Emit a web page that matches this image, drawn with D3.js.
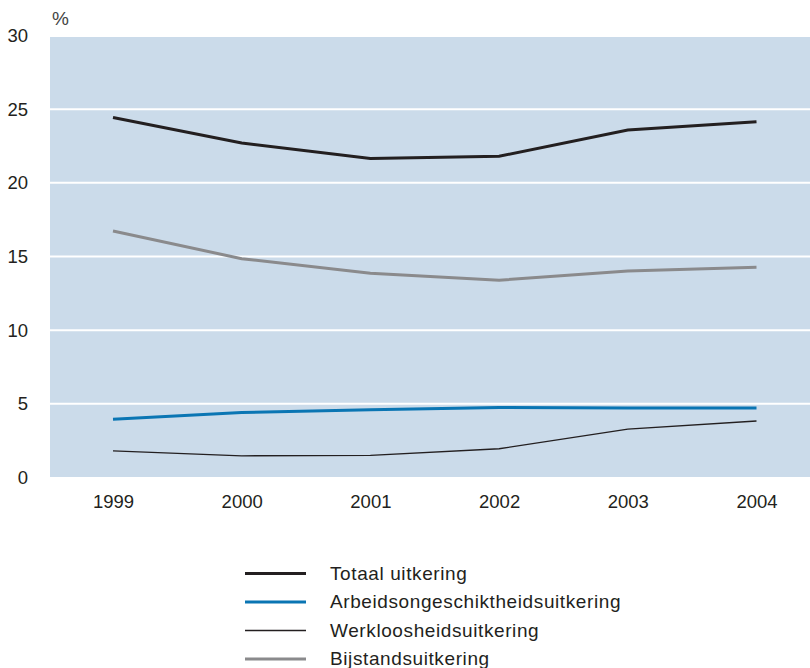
<!DOCTYPE html>
<html><head><meta charset="utf-8">
<script src="https://cdn.jsdelivr.net/npm/d3@7"></script>
<style>
body{margin:0;background:#fff;}
text{font-family:"Liberation Sans","Arial",sans-serif;}
</style></head>
<body><svg id="c" width="810" height="668"></svg>
<script>
const years = ["1999","2000","2001","2002","2003","2004"];
const yTicks = [0,5,10,15,20,25,30];
const totaal = [24.44,22.7,21.66,21.8,23.58,24.14];
const arbeid = [3.96,4.41,4.59,4.75,4.71,4.71];
const werkloos = [1.81,1.47,1.5,1.95,3.28,3.83];
const bijstand = [16.73,14.85,13.86,13.39,14.02,14.27];
const seriesNames = ["Totaal uitkering","Arbeidsongeschiktheidsuitkering","Werkloosheidsuitkering","Bijstandsuitkering"];

const series = [
  {name:seriesNames[0], values:totaal, color:"#231f20", w:3},
  {name:seriesNames[1], values:arbeid, color:"#0a75b3", w:3},
  {name:seriesNames[2], values:werkloos, color:"#231f20", w:1.4},
  {name:seriesNames[3], values:bijstand, color:"#8a8a8c", w:3}
];

const svg = d3.select("#c");
const x = d3.scalePoint().domain(years).range([113,756.5]);
const y = d3.scaleLinear().domain([0,30]).range([477.5,35.5]);
const left = 50, right = 810;

svg.append("rect").attr("x",left).attr("y",y(30)+1.5).attr("width",right-left).attr("height",y(0)-y(30)-2).attr("fill","#cbdbea");

svg.selectAll("line.grid").data(yTicks.filter(d=>d>0 && d<30)).enter().append("line")
  .attr("x1",left).attr("x2",right).attr("y1",d=>y(d)).attr("y2",d=>y(d))
  .attr("stroke","#fff").attr("stroke-width",2);

const yAxis = svg.append("g").attr("transform",`translate(${left},0)`)
  .call(d3.axisLeft(y).tickValues(yTicks).tickSize(0).tickPadding(22));
yAxis.select(".domain").remove();
yAxis.selectAll("text").attr("font-size",18.5).attr("fill","#231f20").attr("font-family","Liberation Sans, Arial, sans-serif");

const xAxis = svg.append("g").attr("transform",`translate(0,${y(0)})`)
  .call(d3.axisBottom(x).tickSize(0).tickPadding(17));
xAxis.select(".domain").remove();
xAxis.selectAll("text").attr("font-size",18.5).attr("fill","#231f20").attr("font-family","Liberation Sans, Arial, sans-serif");

svg.append("text").attr("x",52).attr("y",25).attr("font-size",19).attr("fill","#444").text("%");

const line = d3.line().x((d,i)=>x(years[i])).y(d=>y(d));
svg.selectAll("path.s").data(series).enter().append("path")
  .attr("d",d=>line(d.values)).attr("fill","none")
  .attr("stroke",d=>d.color).attr("stroke-width",d=>d.w).attr("stroke-linejoin","miter");

const lg = svg.append("g");
const ly = d3.scalePoint().domain(seriesNames).range([573.5,659]);
series.forEach(s=>{
  lg.append("line").attr("x1",245).attr("x2",306).attr("y1",ly(s.name)).attr("y2",ly(s.name))
    .attr("stroke",s.color).attr("stroke-width",s.w);
  lg.append("text").attr("x",330).attr("y",ly(s.name)+6).attr("font-size",19)
    .attr("letter-spacing",0.6).attr("fill","#231f20").text(s.name);
});
</script></body></html>
